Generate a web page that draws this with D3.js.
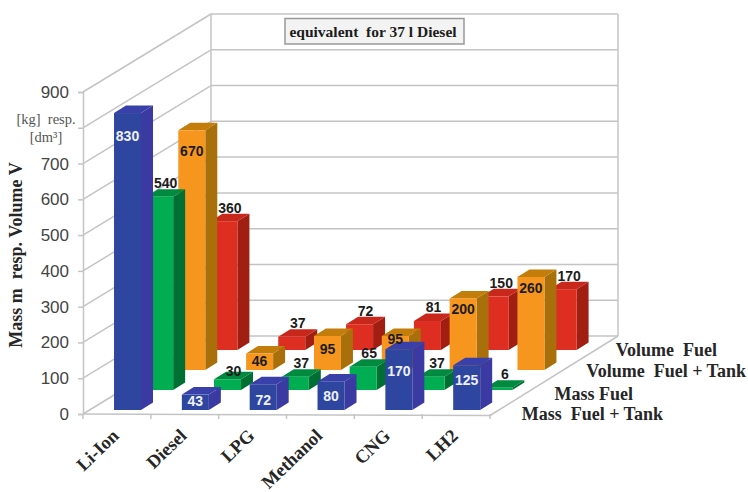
<!DOCTYPE html>
<html>
<head>
<meta charset="utf-8">
<script src="https://d3js.org/d3.v7.min.js"></script>
<style>
  html, body { margin: 0; background: #fff; }
  svg { display: block; }
  text { white-space: pre; }
</style>
</head>
<body>
<svg id="chart" width="748" height="492"></svg>
<script>
// Energy-storage equivalents for 37 l of diesel, one bar per fuel and measure.
const categories = ["Li-Ion", "Diesel", "LPG", "Methanol", "CNG", "LH2"];
const massFuelTank = [830, 43, 72, 80, 170, 125];
const massFuel = [540, 30, 37, 65, 37, 6];
const volumeFuelTank = [670, 46, 95, 95, 200, 260];
const volumeFuel = [360, 37, 72, 81, 150, 170];
const rowNames = ["Mass  Fuel + Tank", "Mass Fuel", "Volume  Fuel + Tank", "Volume  Fuel"];
const yTicks = [0, 100, 200, 300, 400, 500, 600, 700, 800, 900];

const svg = d3.select("#chart");
const serif = "'Liberation Serif', serif";
const sans = "'Liberation Sans', sans-serif";
const gridColor = "#c4c4c4";

// Oblique projection: a depth vector shifts every floor point up and to the right.
const depth = { x: 128, y: -78 };
const x = d3.scaleBand().domain(categories).range([83, 490]).paddingInner(0.602).paddingOuter(0.301);
const y = d3.scaleLinear().domain([0, 900]).range([414, 92]);
const rowX = d3.scaleLinear().domain([0, 3]).range([10.6, 107]);
const rowY = d3.scaleLinear().domain([0, 3]).range([-4, -64]);
const barDepth = { x: 12, y: -7.5 };

const rows = [
  { values: massFuelTank, front: "#2e469f", side: "#3a3aa2", top: "#3a40aa", labelColor: "#eef1fb",
    drop: [23, 6, 16, 15, 22, 15] },
  { values: massFuel, front: "#00ad50", side: "#006f33", top: "#008a40", labelColor: "#1c1c1c" },
  { values: volumeFuelTank, front: "#f7961f", side: "#a86f0b", top: "#c27d0a", labelColor: "#1c1c1c",
    drop: [21, 8, 13, 3, 11, 11] },
  { values: volumeFuel, front: "#de2e22", side: "#a11e12", top: "#c8281c", labelColor: "#1c1c1c" }
];

// Walls and gridlines
const walls = svg.append("g").attr("fill", "none").attr("stroke", gridColor).attr("stroke-width", 1.5);
const addLine = (a, b, c, d) => walls.append("line").attr("x1", a).attr("y1", b).attr("x2", c).attr("y2", d);
yTicks.forEach(v => {
  addLine(83, y(v), 83 + depth.x, y(v) + depth.y);
  addLine(83 + depth.x, y(v) + depth.y, 490 + depth.x, y(v) + depth.y);
});
addLine(83 + depth.x, y(900) + depth.y, 83 + depth.x, y(0) + depth.y);
addLine(490 + depth.x, y(900) + depth.y, 490 + depth.x, y(0) + depth.y);
addLine(83, y(0), 490, y(0) + 1.5);
addLine(490, y(0) + 1.5, 490 + depth.x, y(0) + depth.y);

// Category boundary ticks along the front floor edge
const step = x.step();
d3.range(categories.length + 1).forEach(i => {
  const tx = 83 + i * step;
  addLine(tx, y(0), tx, y(0) + 5);
});

// Value axis
const axis = d3.axisLeft(y).tickValues(yTicks).tickSize(5).tickPadding(9)
  .tickFormat(d => d === 800 ? "" : d);
const axisG = svg.append("g").attr("transform", "translate(83,0)").call(axis);
axisG.select(".domain").attr("stroke", gridColor).attr("stroke-width", 1.5);
axisG.selectAll(".tick line").attr("stroke", gridColor).attr("stroke-width", 1.5);
axisG.selectAll(".tick text")
  .attr("font-family", sans).attr("font-size", 17).attr("fill", "#444");

// Bars, from the back row forward so nearer bars cover farther ones
const barW = x.bandwidth();
const corners = (cat, r, v) => {
  const left = x(cat) + rowX(r);
  const base = y(0) + rowY(r);
  const topY = base - (y(0) - y(v));
  return { left, right: left + barW, base, topY };
};
d3.range(rows.length - 1, -1, -1).forEach(r => {
  const row = rows[r];
  const g = svg.append("g");
  row.values.forEach((v, i) => {
    const c = corners(categories[i], r, v);
    const d = barDepth;
    const poly = pts => pts.map(p => p.join(",")).join(" ");
    g.append("polygon").attr("fill", row.side).attr("points", poly([
      [c.right, c.base], [c.right + d.x, c.base + d.y], [c.right + d.x, c.topY + d.y], [c.right, c.topY]
    ]));
    g.append("polygon").attr("fill", row.top).attr("points", poly([
      [c.left, c.topY], [c.right, c.topY], [c.right + d.x, c.topY + d.y], [c.left + d.x, c.topY + d.y]
    ]));
    g.append("rect").attr("x", c.left).attr("y", c.topY).attr("width", barW).attr("height", c.base - c.topY)
      .attr("fill", row.front);
  });
});

// Value labels: inside the front face for two series, above the bar for the others
const labels = svg.append("g").attr("font-family", sans).attr("font-weight", 700).attr("font-size", 14)
  .attr("text-anchor", "middle");
rows.forEach((row, r) => {
  row.values.forEach((v, i) => {
    const c = corners(categories[i], r, v);
    const inside = !!row.drop;
    let lx = c.left + barW / 2 + (inside ? 0 : 6);
    let ly = inside ? c.topY + row.drop[i] : c.topY + barDepth.y - 6;
    if (r === 1 && v === 30) ly += 5;
    labels.append("text").attr("x", lx).attr("y", ly).attr("dy", "0.35em")
      .attr("fill", row.labelColor).text(v);
  });
});

// Category names, slanted under the floor
svg.append("g").selectAll("text").data(categories).join("text")
  .attr("transform", d => `translate(${x(d) + x.bandwidth() / 2 + 3},437) rotate(-44)`)
  .attr("text-anchor", "end")
  .attr("font-family", serif).attr("font-weight", 700).attr("font-size", 18.5).attr("fill", "#262626")
  .text(d => d);

// Row names beside the floor's right edge
const rowLabelEnds = [663, 633, 746, 717];
const rowLabelYs = [414, 394, 371, 350];
svg.append("g").selectAll("text").data(rowNames).join("text")
  .attr("x", (d, i) => rowLabelEnds[i]).attr("y", (d, i) => rowLabelYs[i]).attr("dy", "0.35em")
  .attr("text-anchor", "end")
  .attr("font-family", serif).attr("font-weight", 700).attr("font-size", 18).attr("fill", "#262626")
  .text(d => d);

// Axis title and units
svg.append("text").attr("transform", "translate(22,255) rotate(-90)").attr("text-anchor", "middle")
  .attr("font-family", serif).attr("font-weight", 700).attr("font-size", 18).attr("fill", "#262626")
  .text("Mass m  resp. Volume V");
svg.append("text").attr("x", 46).attr("y", 119).attr("dy", "0.35em").attr("text-anchor", "middle")
  .attr("font-family", serif).attr("font-size", 14.5).attr("fill", "#555").text("[kg]  resp.");
svg.append("text").attr("x", 46).attr("y", 137).attr("dy", "0.35em").attr("text-anchor", "middle")
  .attr("font-family", serif).attr("font-size", 14.5).attr("fill", "#555").text("[dm³]");

// Annotation box on the back wall
svg.append("rect").attr("x", 285).attr("y", 18.5).attr("width", 179).attr("height", 25.5)
  .attr("fill", "#f3f3f3").attr("stroke", "#999").attr("stroke-width", 1.5);
svg.append("text").attr("x", 373).attr("y", 32).attr("dy", "0.35em").attr("text-anchor", "middle")
  .attr("font-family", serif).attr("font-weight", 700).attr("font-size", 15.5).attr("fill", "#1c1c1c")
  .text("equivalent  for 37 l Diesel");
</script>
</body>
</html>
